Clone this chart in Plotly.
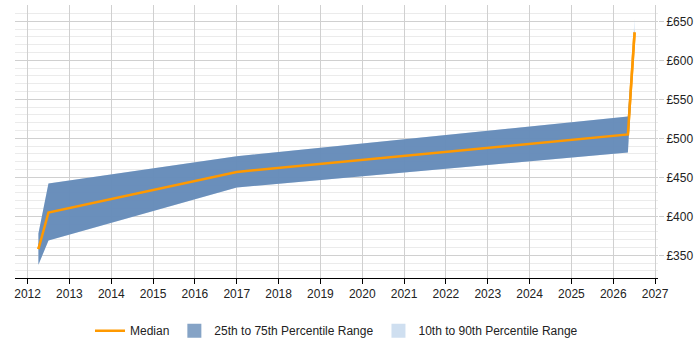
import plotly.graph_objects as go

years = [2012.26, 2012.5, 2017.0, 2026.35, 2026.51]
median = [358, 405, 457, 505, 636]
p25 = [338, 369, 437, 482, 632]
p75 = [378, 442, 477, 528, 640]
p10 = [338, 369, 437, 482, 628]
p90 = [378, 442, 477, 528, 653]

band_col = "rgba(88,128,178,0.85)"
light_col = "rgba(198,219,239,0.8)"

fig = go.Figure()
fig.add_trace(go.Scatter(x=years, y=median, mode="lines", line=dict(color="#ff9900", width=2.5), name="Median"))
fig.add_trace(go.Scatter(x=[None], y=[None], mode="markers", marker=dict(symbol="square", size=14, color="#85a3c6"),
                         name="25th to 75th Percentile Range"))
fig.add_trace(go.Scatter(x=[None], y=[None], mode="markers", marker=dict(symbol="square", size=14, color="#cfdff0"),
                         name="10th to 90th Percentile Range"))
fig.add_trace(go.Scatter(x=years, y=p10, mode="lines", line=dict(width=0), showlegend=False, hoverinfo="skip"))
fig.add_trace(go.Scatter(x=years, y=p90, mode="lines", line=dict(width=0), fill="tonexty",
                         fillcolor=light_col, showlegend=False, hoverinfo="skip"))
fig.add_trace(go.Scatter(x=years, y=p25, mode="lines", line=dict(width=0), showlegend=False, hoverinfo="skip"))
fig.add_trace(go.Scatter(x=years, y=p75, mode="lines", line=dict(width=0), fill="tonexty",
                         fillcolor=band_col, showlegend=False, hoverinfo="skip"))
# median on top
fig.add_trace(go.Scatter(x=years, y=median, mode="lines", line=dict(color="#ff9900", width=2.5),
                         showlegend=False, hoverinfo="skip"))

fig.update_layout(
    width=700, height=350,
    margin=dict(l=15, r=42, t=5, b=58),
    paper_bgcolor="white", plot_bgcolor="white",
    font=dict(family="Liberation Sans, Arial, sans-serif", size=12, color="#222"),
    legend=dict(orientation="h", x=0.5, xanchor="center", y=-0.14, yanchor="top",
                font=dict(size=12), traceorder="normal"),
    showlegend=True,
)
fig.update_xaxes(range=[2011.7, 2027.07], tickmode="linear", tick0=2012, dtick=1,
                 showgrid=True, gridcolor="#d0d0d0", gridwidth=1,
                 showline=True, linecolor="#000", linewidth=1, ticks="outside", ticklen=5, tickcolor="#000",
                 zeroline=False)
fig.update_yaxes(range=[321, 671], side="right", tickmode="linear", tick0=350, dtick=50,
                 tickprefix="£", showgrid=True, gridcolor="#d0d0d0", gridwidth=1,
                 minor=dict(dtick=10, showgrid=True, gridcolor="#ebebeb"),
                 ticks="outside", ticklen=5, tickcolor="#ccc", zeroline=False, showline=False)

fig.write_html("out.html")
